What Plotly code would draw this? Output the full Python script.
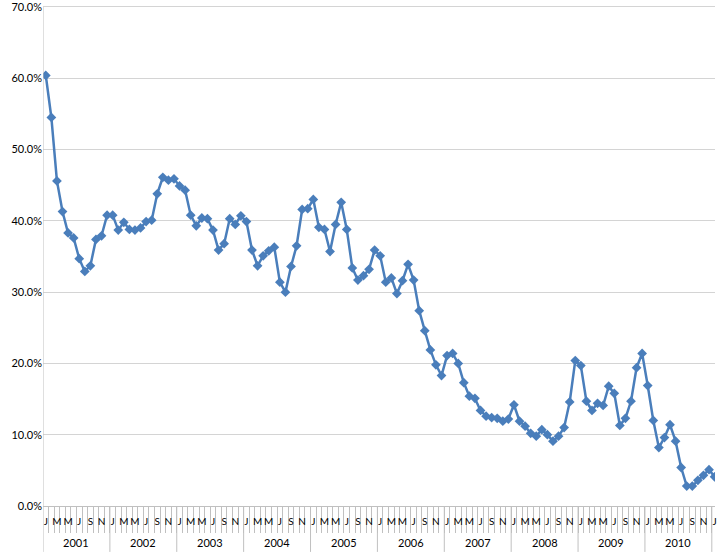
import plotly.graph_objects as go

# ---- data (monthly, Jan 2001 .. Jan 2011), percent ----
years = ["2001", "2002", "2003", "2004", "2005", "2006", "2007", "2008", "2009", "2010"]
month_ticktext = ["J", "", "M", "", "M", "", "J", "", "S", "", "N", ""]

v2001 = [60.4, 54.5, 45.6, 41.3, 38.3, 37.6, 34.7, 32.9, 33.7, 37.4, 37.9, 40.8]
v2002 = [40.8, 38.7, 39.8, 38.8, 38.7, 39.0, 39.9, 40.1, 43.8, 46.1, 45.7, 45.9]
v2003 = [44.9, 44.3, 40.8, 39.3, 40.4, 40.3, 38.7, 35.9, 36.8, 40.3, 39.5, 40.7]
v2004 = [39.9, 35.9, 33.7, 35.1, 35.8, 36.3, 31.4, 30.0, 33.6, 36.5, 41.6, 41.7]
v2005 = [43.0, 39.1, 38.8, 35.7, 39.5, 42.6, 38.8, 33.4, 31.7, 32.3, 33.2, 35.9]
v2006 = [35.1, 31.4, 32.0, 29.8, 31.6, 33.9, 31.7, 27.4, 24.6, 21.9, 19.8, 18.3]
v2007 = [21.1, 21.4, 20.0, 17.3, 15.4, 15.1, 13.4, 12.6, 12.4, 12.3, 11.9, 12.2]
v2008 = [14.2, 11.9, 11.2, 10.2, 9.8, 10.7, 10.0, 9.1, 9.8, 11.0, 14.6, 20.4]
v2009 = [19.7, 14.7, 13.4, 14.4, 14.1, 16.8, 15.8, 11.3, 12.3, 14.7, 19.4, 21.4]
v2010 = [16.9, 12.0, 8.2, 9.6, 11.4, 9.1, 5.4, 2.8, 2.8, 3.6, 4.3, 5.1]
v2011 = [4.1]

values = v2001 + v2002 + v2003 + v2004 + v2005 + v2006 + v2007 + v2008 + v2009 + v2010 + v2011
y = [v / 100.0 for v in values]
x = list(range(len(values)))

ytick_vals = [0, 0.1, 0.2, 0.3, 0.4, 0.5, 0.6, 0.7]

# ---- style ----
BLUE = "#4a7ebb"
GRID = "#d4d4d4"
AXIS = "#c0c0c0"
FONT = "Lato, 'Liberation Sans', sans-serif"

W, H = 717, 555
ML, MR, MT, MB = 43, 0, 0, 49
plot_h = H - MT - MB

fig = go.Figure()
fig.add_trace(go.Scatter(
    x=x, y=y, mode="lines+markers",
    line=dict(color=BLUE, width=2.5),
    marker=dict(symbol="diamond", size=7.5, color=BLUE),
    hoverinfo="skip", showlegend=False,
))

# month tick labels
tickvals, ticktext = [], []
for i in x:
    t = month_ticktext[i % 12]
    if t:
        tickvals.append(i)
        ticktext.append(t)

n = len(values)
minor_vals = [i - 0.5 for i in range(1, n + 1)]

fig.update_xaxes(
    type="linear",
    range=[-0.5, -0.5 + (W - ML - MR) / 5.59],
    tickmode="array", tickvals=tickvals, ticktext=ticktext, tickangle=0,
    ticks="outside", ticklen=6, tickcolor="rgba(0,0,0,0)",
    tickfont=dict(family=FONT, size=10, color="#000000"),
    ticklabeloverflow="allow",
    showgrid=False, zeroline=False,
    showline=True, linecolor=AXIS, linewidth=1,
    minor=dict(tickmode="array", tickvals=minor_vals, ticks="outside",
               ticklen=26, tickcolor=AXIS, tickwidth=1, showgrid=False),
)
fig.update_yaxes(
    range=[0, 0.7084], tickmode="array", tickvals=ytick_vals,
    tickformat=".1%",
    tickfont=dict(family=FONT, size=11, color="#000000"),
    ticklabeloverflow="allow",
    showgrid=True, gridcolor=GRID, gridwidth=1,
    zeroline=False, showline=False,
    ticks="",
)

# y axis line (from 0 up to the top gridline) as part of the frame
shapes = [dict(type="line", xref="x", yref="y", x0=-0.5, x1=-0.5, y0=0, y1=0.70,
               line=dict(color=AXIS, width=1))]

# year separators and year labels
sep_bottom = -(552 - (H - MB)) / plot_h
for k in range(len(years) + 1):
    xb = -0.5 + 12 * k
    shapes.append(dict(type="line", xref="x", yref="paper",
                       x0=xb, x1=xb, y0=0, y1=sep_bottom,
                       line=dict(color=AXIS, width=1)))
annotations = []
for k, yr in enumerate(years):
    annotations.append(dict(x=5.5 + 12 * k, y=-(543 - (H - MB)) / plot_h,
                            xref="x", yref="paper", text=yr, showarrow=False,
                            font=dict(family=FONT, size=11, color="#000000"),
                            xanchor="center", yanchor="middle"))

fig.update_layout(
    width=W, height=H,
    margin=dict(l=ML, r=MR, t=MT, b=MB, pad=0),
    paper_bgcolor="white", plot_bgcolor="white",
    shapes=shapes, annotations=annotations,
)

fig.write_html("out.html", config={"displayModeBar": False},
               post_script="document.body.style.margin='0';")
